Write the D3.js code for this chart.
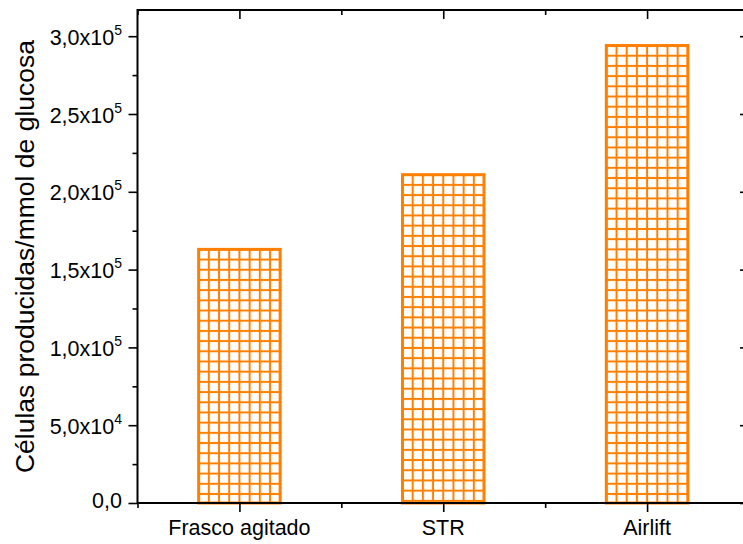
<!DOCTYPE html>
<html>
<head>
<meta charset="utf-8">
<script src="https://cdn.jsdelivr.net/npm/d3@7"></script>
<style>
  body { margin: 0; background: #fff; }
  svg { display: block; }
  text { font-family: "Liberation Sans", Arial, sans-serif; fill: #000; }
</style>
</head>
<body>
<svg id="chart" width="743" height="544"></svg>
<script>
// Cells produced per mmol of glucose, by culture system
const categories = ["Frasco agitado", "STR", "Airlift"];
const cellsPerGlucose = [163000, 211000, 294000];

// Y axis ticks: value, mantissa text, exponent (null = none)
const yTickValues = [0, 50000, 100000, 150000, 200000, 250000, 300000];
const yTickMantissa = ["0,0", "5,0x10", "1,0x10", "1,5x10", "2,0x10", "2,5x10", "3,0x10"];
const yTickExponent = [null, "4", "5", "5", "5", "5", "5"];
const yMinorValues = [25000, 75000, 125000, 175000, 225000, 275000, 325000];

const yTitle = "Células producidas/mmol de glucosa";

const orange = "#ff8000";
const svg = d3.select("#chart");

// Plot frame
const plotL = 137.5, plotR = 749, plotT = 10, plotB = 503;

const x = d3.scaleLinear().domain([0.5, categories.length + 0.5]).range([plotL, plotR]);
const y = d3.scaleLinear().domain([0, 300000]).range([plotB, 36.2]);

const catPos = categories.map((_, i) => i + 1);
const xMinor = d3.range(0.5, categories.length + 1, 1);
const barW = 0.4 * (x(2) - x(1));
const cells = 8;

// Per-bar grid hatch patterns anchored at each bar's top-left corner
const defs = svg.append("defs");
cellsPerGlucose.forEach((v, i) => {
  const bx = x(catPos[i]) - barW / 2;
  const by = y(v);
  const c = barW / cells;
  const p = defs.append("pattern")
    .attr("id", "hatch" + i)
    .attr("patternUnits", "userSpaceOnUse")
    .attr("x", bx).attr("y", by)
    .attr("width", c).attr("height", c);
  p.append("rect").attr("x", 0).attr("y", 0).attr("width", 1).attr("height", c).attr("fill", orange);
  p.append("rect").attr("x", c - 1).attr("y", 0).attr("width", 1).attr("height", c).attr("fill", orange);
  p.append("rect").attr("x", 0).attr("y", 0).attr("width", c).attr("height", 1).attr("fill", orange);
  p.append("rect").attr("x", 0).attr("y", c - 1).attr("width", c).attr("height", 1).attr("fill", orange);
});

// Bars
svg.append("g").selectAll("rect")
  .data(cellsPerGlucose)
  .join("rect")
  .attr("x", (d, i) => x(catPos[i]) - barW / 2)
  .attr("y", d => y(d))
  .attr("width", barW)
  .attr("height", d => y(0) - y(d))
  .attr("fill", (d, i) => `url(#hatch${i})`)
  .attr("stroke", orange)
  .attr("stroke-width", 3);

// Axes with major and minor ticks
function styleAxis(g) {
  g.select(".domain").remove();
  g.selectAll(".tick line").attr("stroke", "#000").attr("stroke-width", 1.6);
  g.selectAll(".tick text").remove();
}
const yMinorIn = yMinorValues.filter(v => y(v) > plotT);

svg.append("g").attr("transform", `translate(${plotL},0)`)
  .call(d3.axisLeft(y).tickValues(yTickValues).tickSize(9).tickFormat(""))
  .call(styleAxis);
svg.append("g").attr("transform", `translate(${plotL},0)`)
  .call(d3.axisLeft(y).tickValues(yMinorIn).tickSize(5).tickFormat(""))
  .call(styleAxis);
svg.append("g").attr("transform", `translate(${plotR},0)`)
  .call(d3.axisRight(y).tickValues(yTickValues).tickSize(-9).tickFormat(""))
  .call(styleAxis);
svg.append("g").attr("transform", `translate(${plotR},0)`)
  .call(d3.axisRight(y).tickValues(yMinorIn).tickSize(-5).tickFormat(""))
  .call(styleAxis);

svg.append("g").attr("transform", `translate(0,${plotB})`)
  .call(d3.axisBottom(x).tickValues(catPos).tickSize(9).tickFormat(""))
  .call(styleAxis);
svg.append("g").attr("transform", `translate(0,${plotB})`)
  .call(d3.axisBottom(x).tickValues(xMinor).tickSize(5).tickFormat(""))
  .call(styleAxis);
svg.append("g").attr("transform", `translate(0,${plotT})`)
  .call(d3.axisTop(x).tickValues(catPos).tickSize(-9).tickFormat(""))
  .call(styleAxis);
svg.append("g").attr("transform", `translate(0,${plotT})`)
  .call(d3.axisTop(x).tickValues(xMinor).tickSize(-5).tickFormat(""))
  .call(styleAxis);

// Frame
svg.append("rect")
  .attr("x", plotL).attr("y", plotT)
  .attr("width", plotR - plotL).attr("height", plotB - plotT)
  .attr("fill", "none").attr("stroke", "#000").attr("stroke-width", 2);

// Y tick labels
const yLab = svg.append("g");
yTickValues.forEach((v, i) => {
  const t = yLab.append("text")
    .attr("x", 122)
    .attr("y", y(v) + (yTickExponent[i] ? 8.5 : 5))
    .attr("text-anchor", "end")
    .style("font-size", "21.5px");
  t.append("tspan").text(yTickMantissa[i]);
  if (yTickExponent[i]) {
    t.append("tspan").attr("dy", -10).style("font-size", "14px").text(yTickExponent[i]);
  }
});

// X tick labels
svg.append("g").selectAll("text")
  .data(categories)
  .join("text")
  .attr("x", (d, i) => x(catPos[i]))
  .attr("y", 535)
  .attr("text-anchor", "middle")
  .style("font-size", "21.5px")
  .text(d => d);

// Y axis title
svg.append("text")
  .attr("transform", `translate(34,${(plotT + plotB) / 2}) rotate(-90)`)
  .attr("text-anchor", "middle")
  .style("font-size", "26.5px")
  .text(yTitle);
</script>
</body>
</html>
